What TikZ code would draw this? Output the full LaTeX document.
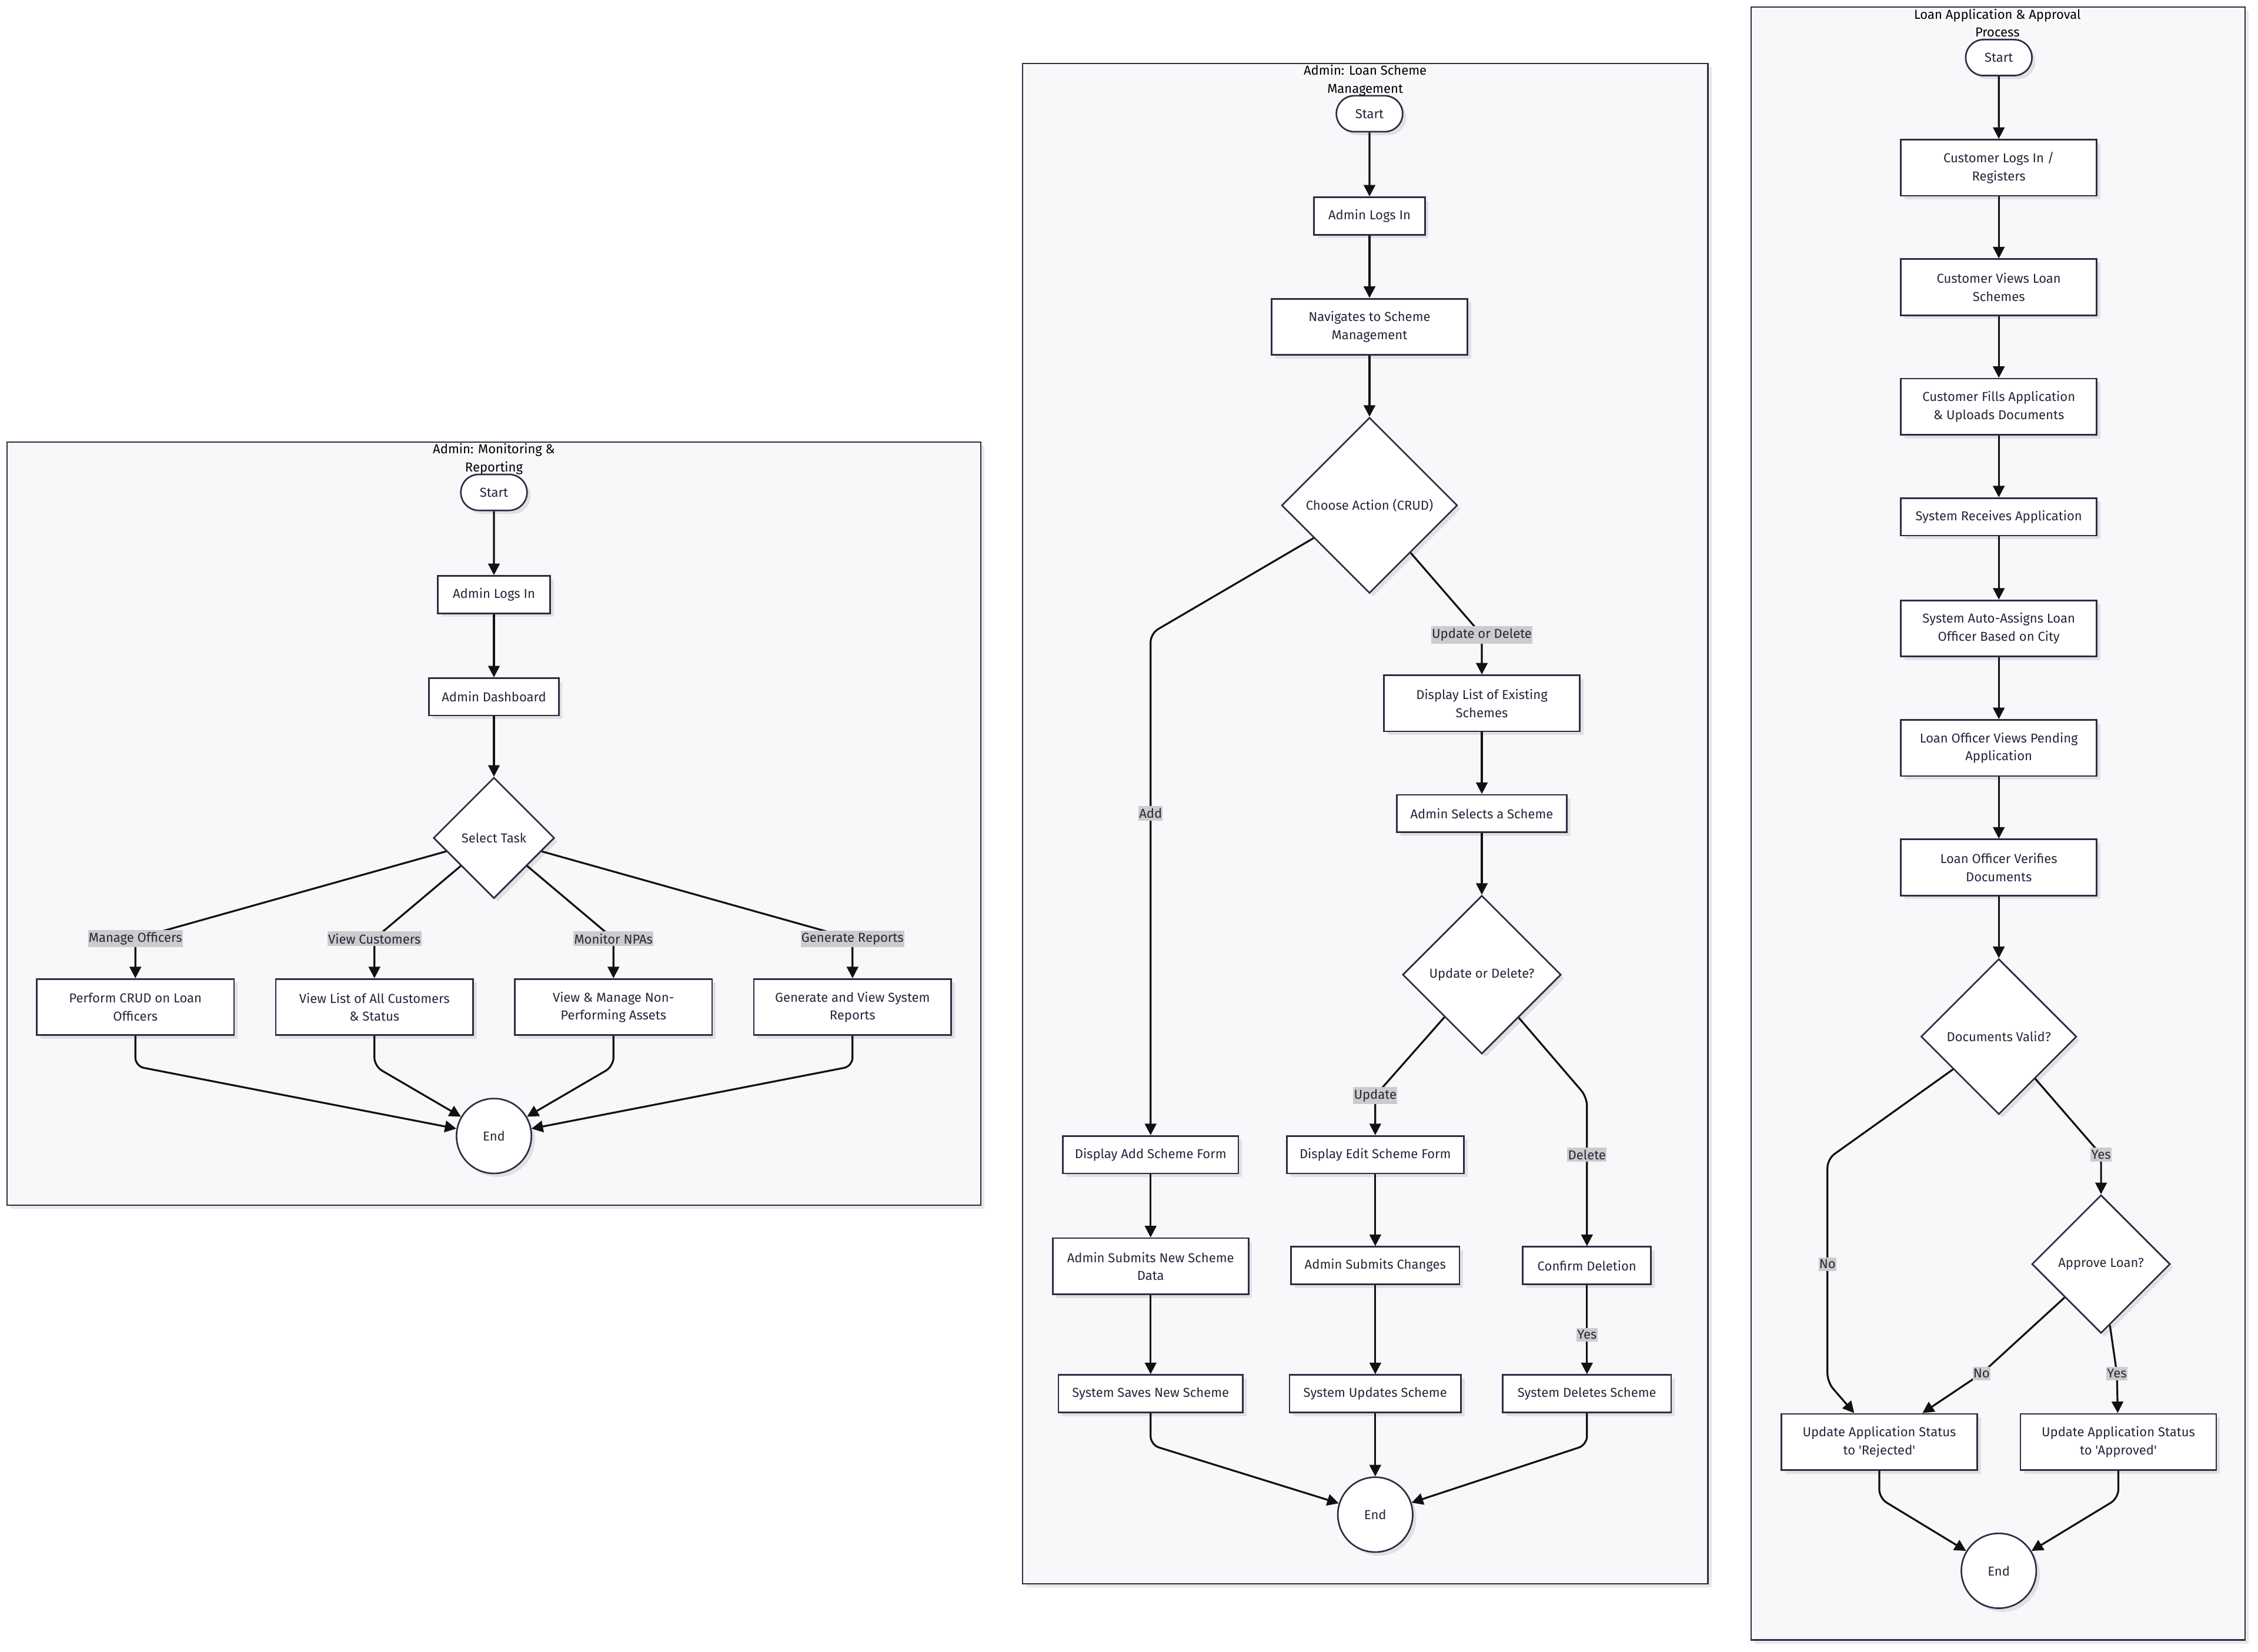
\documentclass[tikz,border=0pt]{standalone}
\usepackage{fontspec}
\newfontfamily\nf{Fira Sans}
\usetikzlibrary{shapes.geometric,shapes.misc,arrows.meta,shadows}
\definecolor{bd}{HTML}{2D2D45}
\definecolor{txt}{HTML}{26263A}
\definecolor{clfill}{HTML}{F8F8FA}
\definecolor{lblbg}{HTML}{CCCCCC}
\definecolor{ln}{HTML}{111111}
\begin{document}
\begin{tikzpicture}[x=1pt,y=-1pt,
  every node/.style={font=\nf\fontsize{9}{12.5}\selectfont, text=txt},
  shd/.style={drop shadow={shadow xshift=2.5pt,shadow yshift=-2.5pt,fill=black,opacity=0.09}},
  cluster/.style={rectangle, draw=bd, fill=clfill, line width=1pt, inner sep=0pt, shd},
  ctitle/.style={anchor=north, align=center, text=black, inner sep=1pt},
  box/.style={rectangle, draw=bd, fill=white, line width=1.1pt, minimum height=26pt, align=center, inner sep=0pt, shd},
  box2/.style={box, minimum height=39pt},
  term/.style={rounded rectangle, draw=bd, fill=white, line width=1.1pt, minimum width=46pt, minimum height=25pt, inner sep=0pt, shd},
  dia/.style={diamond, aspect=1, draw=bd, fill=white, line width=1.1pt, inner sep=0pt, shd},
  endc/.style={circle, draw=bd, fill=white, line width=1.1pt, minimum size=52pt, inner sep=0pt, shd},
  lbl/.style={fill=lblbg, sharp corners, inner xsep=0.5pt, inner ysep=1.6pt},
  ed/.style={draw=ln, line width=1.3pt, -{Triangle[length=8pt,width=8pt]}, rounded corners=6pt}
]
\useasboundingbox (0,0) rectangle (1568,1147.4);
\fill[white] (0,0) rectangle (1568,1147.4);

% ---------------- clusters ----------------
\node[cluster, minimum width=676pt, minimum height=530pt] (cl1) at (343,572) {};
\node[ctitle] (ct1) at (343,307) {Admin: Monitoring \&\\Reporting};
\node[cluster, minimum width=476pt, minimum height=1056pt] (cl2) at (948,572) {};
\node[ctitle] (ct2) at (948,44) {Admin: Loan Scheme\\Management};
\node[cluster, minimum width=343pt, minimum height=1134pt] (cl3) at (1387.5,572) {};
\node[ctitle] (ct3) at (1387,5) {Loan Application \& Approval\\Process};

% ---------------- cluster 1 ----------------
\node[term] (s1) at (343,342) {Start};
\node[box, minimum width=78pt] (l1) at (343,413) {Admin Logs In};
\node[box, minimum width=90pt] (d1) at (343,484) {Admin Dashboard};
\node[dia, minimum width=84pt, minimum height=84pt] (t1) at (343,582) {Select Task};
\node[box2, minimum width=137pt] (a1) at (94,699.5) {Perform CRUD on Loan\\Officers};
\node[box2, minimum width=137pt] (b1) at (260,699.5) {View List of All Customers\\\& Status};
\node[box2, minimum width=137pt] (c1) at (426,699.5) {View \& Manage Non-\\Performing Assets};
\node[box2, minimum width=137pt] (g1) at (592,699.5) {Generate and View System\\Reports};
\node[endc] (e1) at (343,789) {End};

\draw[ed] (s1) -- (l1);
\draw[ed] (l1) -- (d1);
\draw[ed] (d1) -- (t1);
\draw[ed] (t1) -- (94,652) node[lbl] (m1) {Manage Officers} -- (a1);
\draw[ed] (t1) -- (260,652) node[lbl] (m2) {View Customers} -- (b1);
\draw[ed] (t1) -- (426,652) node[lbl] (m3) {Monitor NPAs} -- (c1);
\draw[ed] (t1) -- (592,652) node[lbl] (m4) {Generate Reports} -- (g1);
\draw[ed] (a1.south) -- ++(0,21) -- (e1);
\draw[ed] (b1.south) -- ++(0,21) -- (e1);
\draw[ed] (c1.south) -- ++(0,21) -- (e1);
\draw[ed] (g1.south) -- ++(0,21) -- (e1);

% ---------------- cluster 2 ----------------
\node[term] (s2) at (951,79) {Start};
\node[box, minimum width=77pt] (l2) at (951,150) {Admin Logs In};
\node[box2, minimum width=136pt] (n2) at (951,227) {Navigates to Scheme\\Management};
\node[dia, minimum width=122pt, minimum height=122pt] (c2) at (951,351) {Choose Action (CRUD)};
\node[box2, minimum width=136pt] (dl2) at (1029,488.5) {Display List of Existing\\Schemes};
\node[box, minimum width=118pt] (as2) at (1029,565) {Admin Selects a Scheme};
\node[dia, minimum width=110pt, minimum height=110pt] (u2) at (1029,677) {Update or Delete?};
\node[box, minimum width=122pt] (af2) at (799,802) {Display Add Scheme Form};
\node[box, minimum width=123pt] (ef2) at (955,802) {Display Edit Scheme Form};
\node[box2, minimum width=136pt] (sn2) at (799,879.5) {Admin Submits New Scheme\\Data};
\node[box, minimum width=117pt] (sc2) at (955,879) {Admin Submits Changes};
\node[box, minimum width=89pt] (cd2) at (1102,879) {Confirm Deletion};
\node[box, minimum width=128pt] (ss2) at (799,968) {System Saves New Scheme};
\node[box, minimum width=119pt] (su2) at (955,968) {System Updates Scheme};
\node[box, minimum width=117pt] (sd2) at (1102,968) {System Deletes Scheme};
\node[endc] (e2) at (955,1052) {End};

\draw[ed] (s2) -- (l2);
\draw[ed] (l2) -- (n2);
\draw[ed] (n2) -- (c2);
\draw[ed] (c2) -- (799,440) -- (799,565) node[lbl] (k1) {Add} -- (af2);
\draw[ed] (c2) -- (1029,441) node[lbl] (k2) {Update or Delete} -- (dl2);
\draw[ed] (dl2) -- (as2);
\draw[ed] (as2) -- (u2);
\draw[ed] (u2) -- (955,761) node[lbl] (k3) {Update} -- (ef2);
\draw[ed] (u2) -- (1102,762) -- (1102,802) node[lbl] (k4) {Delete} -- (cd2);
\draw[ed] (af2) -- (sn2);
\draw[ed] (sn2) -- (ss2);
\draw[ed] (ef2) -- (sc2);
\draw[ed] (sc2) -- (su2);
\draw[ed] (cd2) -- (1102,927) node[lbl] (k5) {Yes} -- (sd2);
\draw[ed] (ss2.south) -- ++(0,22) -- (e2);
\draw[ed] (su2) -- (e2);
\draw[ed] (sd2.south) -- ++(0,22) -- (e2);

% ---------------- cluster 3 ----------------
\node[term] (s3) at (1388,40) {Start};
\node[box2, minimum width=136pt] (p1) at (1388,116.5) {Customer Logs In /\\Registers};
\node[box2, minimum width=136pt] (p2) at (1388,199.5) {Customer Views Loan\\Schemes};
\node[box2, minimum width=136pt] (p3) at (1388,282.5) {Customer Fills Application\\\& Uploads Documents};
\node[box, minimum width=136pt] (p4) at (1388,359) {System Receives Application};
\node[box2, minimum width=136pt] (p5) at (1388,436.5) {System Auto-Assigns Loan\\Officer Based on City};
\node[box2, minimum width=136pt] (p6) at (1388,519.5) {Loan Officer Views Pending\\Application};
\node[box2, minimum width=136pt] (p7) at (1388,602.5) {Loan Officer Verifies\\Documents};
\node[dia, minimum width=108pt, minimum height=108pt] (dv) at (1388,720) {Documents Valid?};
\node[dia, minimum width=96pt, minimum height=96pt] (ap) at (1459,878) {Approve Loan?};
\node[box2, minimum width=136pt] (rj) at (1305,1001.5) {Update Application Status\\to 'Rejected'};
\node[box2, minimum width=136pt] (av) at (1471,1001.5) {Update Application Status\\to 'Approved'};
\node[endc] (e3) at (1388,1091) {End};

\draw[ed] (s3) -- (p1);
\draw[ed] (p1) -- (p2);
\draw[ed] (p2) -- (p3);
\draw[ed] (p3) -- (p4);
\draw[ed] (p4) -- (p5);
\draw[ed] (p5) -- (p6);
\draw[ed] (p6) -- (p7);
\draw[ed] (p7) -- (dv);
\draw[ed] (dv) -- (1459,802) node[lbl] (y1) {Yes} -- (ap);
\draw[ed] (dv) -- (1269,805) -- (1269,878) node[lbl] (n1) {No} -- (1269,960) -- (rj);
\draw[ed] (ap) -- (1376,954) node[lbl] (n3) {No} -- (rj);
\draw[ed] (ap) -- (1470,954) node[lbl] (y3) {Yes} -- (av);
\draw[ed] (rj.south) -- ++(0,19) -- (e3);
\draw[ed] (av.south) -- ++(0,19) -- (e3);
\end{tikzpicture}
\end{document}
